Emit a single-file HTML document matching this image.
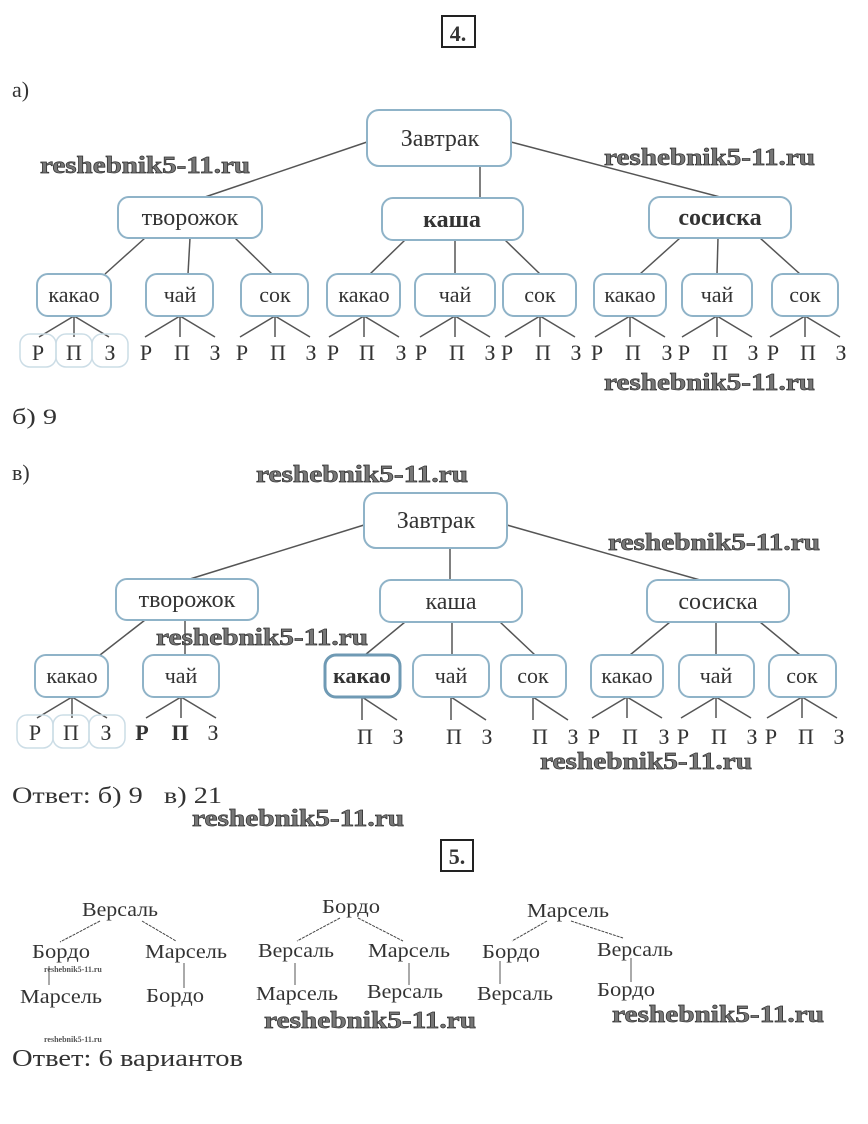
<!DOCTYPE html>
<html><head><meta charset="utf-8"><style>
html,body{margin:0;padding:0;background:#fff;}
svg{display:block}
text{font-family:"Liberation Serif","DejaVu Serif",serif;fill:#333}
.b{fill:#fff;stroke:#8fb3c8;stroke-width:2}
.l{stroke:#555;stroke-width:1.5;fill:none}
.t{font-size:24px;text-anchor:middle}
.s{font-size:22px;text-anchor:middle}
.L{font-size:22px;text-anchor:middle}
.w{font-size:24px;font-weight:bold;fill:#777;stroke:#333;stroke-width:0.7}
.m{font-size:20px;fill:#333}
.d{stroke:#444;stroke-width:1;stroke-dasharray:3,1;fill:none}
</style></head><body>
<svg width="868" height="1124" viewBox="0 0 868 1124" xmlns="http://www.w3.org/2000/svg">
<rect x="442" y="16" width="33" height="31" fill="none" stroke="#222" stroke-width="2"/>
<text x="458" y="41" style="font-size:22px;font-weight:bold;text-anchor:middle">4.</text>
<text x="12" y="97" style="font-size:22px">а)</text>

<g class="l">
<line x1="367" y1="142" x2="205" y2="197"/><line x1="480" y1="166" x2="480" y2="198"/><line x1="511" y1="142" x2="720" y2="197"/>
<line x1="145" y1="238" x2="105" y2="274"/><line x1="190" y1="238" x2="188" y2="274"/><line x1="235" y1="238" x2="272" y2="274"/>
<line x1="405" y1="240" x2="370" y2="274"/><line x1="455" y1="240" x2="455" y2="274"/><line x1="505" y1="240" x2="540" y2="274"/>
<line x1="680" y1="238" x2="640" y2="274"/><line x1="718" y1="238" x2="717" y2="274"/><line x1="760" y1="238" x2="800" y2="274"/>
</g>
<rect class="b" x="367" y="110" width="144" height="56" rx="12"/><text class="t" x="440" y="146">Завтрак</text>
<rect class="b" x="118" y="197" width="144" height="41" rx="11"/><text class="t" x="190" y="225">творожок</text>
<rect class="b" x="382" y="198" width="141" height="42" rx="11"/><text class="t" x="452" y="227" style="font-weight:bold">каша</text>
<rect class="b" x="649" y="197" width="142" height="41" rx="11"/><text class="t" x="720" y="225" style="font-weight:bold">сосиска</text>

<g class="l">
<path d="M74 316L39 337M74 316V337M74 316L109 337"/>
<path d="M180 316L145 337M180 316V337M180 316L215 337"/>
<path d="M275 316L240 337M275 316V337M275 316L310 337"/>
<path d="M364 316L329 337M364 316V337M364 316L399 337"/>
<path d="M455 316L420 337M455 316V337M455 316L490 337"/>
<path d="M540 316L505 337M540 316V337M540 316L575 337"/>
<path d="M630 316L595 337M630 316V337M630 316L665 337"/>
<path d="M717 316L682 337M717 316V337M717 316L752 337"/>
<path d="M805 316L770 337M805 316V337M805 316L840 337"/>
</g>
<g>
<rect class="b" x="37" y="274" width="74" height="42" rx="11"/><text class="s" x="74" y="302">какао</text>
<rect class="b" x="146" y="274" width="67" height="42" rx="11"/><text class="s" x="180" y="302">чай</text>
<rect class="b" x="241" y="274" width="67" height="42" rx="11"/><text class="s" x="275" y="302">сок</text>
<rect class="b" x="327" y="274" width="73" height="42" rx="11"/><text class="s" x="364" y="302">какао</text>
<rect class="b" x="415" y="274" width="80" height="42" rx="11"/><text class="s" x="455" y="302">чай</text>
<rect class="b" x="503" y="274" width="73" height="42" rx="11"/><text class="s" x="540" y="302">сок</text>
<rect class="b" x="594" y="274" width="72" height="42" rx="11"/><text class="s" x="630" y="302">какао</text>
<rect class="b" x="682" y="274" width="70" height="42" rx="11"/><text class="s" x="717" y="302">чай</text>
<rect class="b" x="772" y="274" width="66" height="42" rx="11"/><text class="s" x="805" y="302">сок</text>
</g>
<g>
<rect x="20" y="334" width="36" height="33" rx="10" fill="none" stroke="#ccdde6" stroke-width="1.5"/>
<rect x="56" y="334" width="36" height="33" rx="10" fill="none" stroke="#ccdde6" stroke-width="1.5"/>
<rect x="92" y="334" width="36" height="33" rx="10" fill="none" stroke="#ccdde6" stroke-width="1.5"/>
<text class="L" x="38" y="360">Р</text><text class="L" x="74" y="360">П</text><text class="L" x="110" y="360">З</text>
<text class="L" x="146" y="360">Р</text><text class="L" x="182" y="360">П</text><text class="L" x="215" y="360">З</text>
<text class="L" x="242" y="360">Р</text><text class="L" x="278" y="360">П</text><text class="L" x="311" y="360">З</text>
<text class="L" x="333" y="360">Р</text><text class="L" x="367" y="360">П</text><text class="L" x="401" y="360">З</text>
<text class="L" x="421" y="360">Р</text><text class="L" x="457" y="360">П</text><text class="L" x="490" y="360">З</text>
<text class="L" x="507" y="360">Р</text><text class="L" x="543" y="360">П</text><text class="L" x="576" y="360">З</text>
<text class="L" x="597" y="360">Р</text><text class="L" x="633" y="360">П</text><text class="L" x="667" y="360">З</text>
<text class="L" x="684" y="360">Р</text><text class="L" x="720" y="360">П</text><text class="L" x="753" y="360">З</text>
<text class="L" x="773" y="360">Р</text><text class="L" x="808" y="360">П</text><text class="L" x="841" y="360">З</text>
</g>
<text class="w" x="40" y="173" textLength="210" lengthAdjust="spacingAndGlyphs">reshebnik5-11.ru</text>
<text class="w" x="604" y="165" textLength="211" lengthAdjust="spacingAndGlyphs">reshebnik5-11.ru</text>
<text class="w" x="604" y="390" textLength="211" lengthAdjust="spacingAndGlyphs">reshebnik5-11.ru</text>
<text x="12" y="424" style="font-size:22px" textLength="45" lengthAdjust="spacingAndGlyphs">б) 9</text>
<text x="12" y="480" style="font-size:22px">в)</text>
<text class="w" x="256" y="482" textLength="212" lengthAdjust="spacingAndGlyphs">reshebnik5-11.ru</text>

<g class="l">
<line x1="364" y1="525" x2="190" y2="579"/><line x1="450" y1="548" x2="450" y2="580"/><line x1="507" y1="525" x2="700" y2="580"/>
<line x1="145" y1="620" x2="100" y2="655"/><line x1="185" y1="620" x2="185" y2="655"/>
<line x1="405" y1="622" x2="365" y2="655"/><line x1="452" y1="622" x2="452" y2="655"/><line x1="500" y1="622" x2="535" y2="655"/>
<line x1="670" y1="622" x2="630" y2="655"/><line x1="716" y1="622" x2="716" y2="655"/><line x1="760" y1="622" x2="800" y2="655"/>
</g>
<rect class="b" x="364" y="493" width="143" height="55" rx="12"/><text class="t" x="436" y="528">Завтрак</text>
<rect class="b" x="116" y="579" width="142" height="41" rx="11"/><text class="t" x="187" y="607">творожок</text>
<rect class="b" x="380" y="580" width="142" height="42" rx="11"/><text class="t" x="451" y="609">каша</text>
<rect class="b" x="647" y="580" width="142" height="42" rx="11"/><text class="t" x="718" y="609">сосиска</text>
<g class="l">
<path d="M72 697L37 718M72 697V718M72 697L107 718"/>
<path d="M181 697L146 718M181 697V718M181 697L216 718"/>
<path d="M362 697V720M362 697L397 720"/>
<path d="M451 697V720M451 697L486 720"/>
<path d="M533 697V720M533 697L568 720"/>
<path d="M627 697L592 718M627 697V718M627 697L662 718"/>
<path d="M716 697L681 718M716 697V718M716 697L751 718"/>
<path d="M802 697L767 718M802 697V718M802 697L837 718"/>
</g>
<rect class="b" x="35" y="655" width="73" height="42" rx="11"/><text class="s" x="72" y="683">какао</text>
<rect class="b" x="143" y="655" width="76" height="42" rx="11"/><text class="s" x="181" y="683">чай</text>
<rect class="b" x="325" y="655" width="75" height="42" rx="11" style="stroke:#6f9ab4;stroke-width:3"/><text class="s" x="362" y="683" style="font-weight:bold">какао</text>
<rect class="b" x="413" y="655" width="76" height="42" rx="11"/><text class="s" x="451" y="683">чай</text>
<rect class="b" x="501" y="655" width="65" height="42" rx="11"/><text class="s" x="533" y="683">сок</text>
<rect class="b" x="591" y="655" width="72" height="42" rx="11"/><text class="s" x="627" y="683">какао</text>
<rect class="b" x="679" y="655" width="75" height="42" rx="11"/><text class="s" x="716" y="683">чай</text>
<rect class="b" x="769" y="655" width="67" height="42" rx="11"/><text class="s" x="802" y="683">сок</text>
<g>
<rect x="17" y="715" width="36" height="33" rx="10" fill="none" stroke="#ccdde6" stroke-width="1.5"/>
<rect x="53" y="715" width="36" height="33" rx="10" fill="none" stroke="#ccdde6" stroke-width="1.5"/>
<rect x="89" y="715" width="36" height="33" rx="10" fill="none" stroke="#ccdde6" stroke-width="1.5"/>
<text class="L" x="35" y="740">Р</text><text class="L" x="71" y="740">П</text><text class="L" x="106" y="740">З</text>
<text class="L" x="142" y="740" style="font-weight:bold">Р</text><text class="L" x="180" y="740" style="font-weight:bold">П</text><text class="L" x="213" y="740">З</text>
<text class="L" x="365" y="744">П</text><text class="L" x="398" y="744">З</text>
<text class="L" x="454" y="744">П</text><text class="L" x="487" y="744">З</text>
<text class="L" x="540" y="744">П</text><text class="L" x="573" y="744">З</text>
<text class="L" x="594" y="744">Р</text><text class="L" x="630" y="744">П</text><text class="L" x="664" y="744">З</text>
<text class="L" x="683" y="744">Р</text><text class="L" x="719" y="744">П</text><text class="L" x="752" y="744">З</text>
<text class="L" x="771" y="744">Р</text><text class="L" x="806" y="744">П</text><text class="L" x="839" y="744">З</text>
</g>
<text class="w" x="156" y="645" textLength="212" lengthAdjust="spacingAndGlyphs">reshebnik5-11.ru</text>
<text class="w" x="608" y="550" textLength="212" lengthAdjust="spacingAndGlyphs">reshebnik5-11.ru</text>
<text class="w" x="540" y="769" textLength="212" lengthAdjust="spacingAndGlyphs">reshebnik5-11.ru</text>
<text x="12" y="803" style="font-size:23px" textLength="210" lengthAdjust="spacingAndGlyphs">Ответ: б) 9 &#160; в) 21</text>
<text class="w" x="192" y="826" textLength="212" lengthAdjust="spacingAndGlyphs">reshebnik5-11.ru</text>

<rect x="441" y="840" width="32" height="31" fill="none" stroke="#222" stroke-width="2"/>
<text x="457" y="864" style="font-size:22px;font-weight:bold;text-anchor:middle">5.</text>

<text class="m" x="82" y="916" textLength="76" lengthAdjust="spacingAndGlyphs">Версаль</text>
<text class="m" x="32" y="958" textLength="58" lengthAdjust="spacingAndGlyphs">Бордо</text>
<text class="m" x="145" y="958" textLength="82" lengthAdjust="spacingAndGlyphs">Марсель</text>
<text class="m" x="20" y="1003" textLength="82" lengthAdjust="spacingAndGlyphs">Марсель</text>
<text class="m" x="146" y="1002" textLength="58" lengthAdjust="spacingAndGlyphs">Бордо</text>
<path class="d" d="M100 921L60 942M142 921L176 941"/>
<path class="l" d="M49 966V985M184 963V988" style="stroke-width:1"/>
<text x="44" y="972" style="font-size:8px;font-weight:bold;fill:#555">reshebnik5-11.ru</text>
<text x="44" y="1042" style="font-size:8px;font-weight:bold;fill:#555">reshebnik5-11.ru</text>

<text class="m" x="322" y="913" textLength="58" lengthAdjust="spacingAndGlyphs">Бордо</text>
<text class="m" x="258" y="957" textLength="76" lengthAdjust="spacingAndGlyphs">Версаль</text>
<text class="m" x="368" y="957" textLength="82" lengthAdjust="spacingAndGlyphs">Марсель</text>
<text class="m" x="256" y="1000" textLength="82" lengthAdjust="spacingAndGlyphs">Марсель</text>
<text class="m" x="367" y="998" textLength="76" lengthAdjust="spacingAndGlyphs">Версаль</text>
<path class="d" d="M340 918L297 941M358 918L403 941"/>
<path class="l" d="M295 963V985M409 963V985" style="stroke-width:1"/>

<text class="m" x="527" y="917" textLength="82" lengthAdjust="spacingAndGlyphs">Марсель</text>
<text class="m" x="482" y="958" textLength="58" lengthAdjust="spacingAndGlyphs">Бордо</text>
<text class="m" x="597" y="956" textLength="76" lengthAdjust="spacingAndGlyphs">Версаль</text>
<text class="m" x="477" y="1000" textLength="76" lengthAdjust="spacingAndGlyphs">Версаль</text>
<text class="m" x="597" y="996" textLength="58" lengthAdjust="spacingAndGlyphs">Бордо</text>
<path class="d" d="M547 921L512 941M571 921L623 938"/>
<path class="l" d="M500 961V984M631 958V982" style="stroke-width:1"/>

<text class="w" x="264" y="1028" textLength="212" lengthAdjust="spacingAndGlyphs">reshebnik5-11.ru</text>
<text class="w" x="612" y="1022" textLength="212" lengthAdjust="spacingAndGlyphs">reshebnik5-11.ru</text>
<text x="12" y="1066" style="font-size:24px" textLength="231" lengthAdjust="spacingAndGlyphs">Ответ: 6 вариантов</text>
</svg>
</body></html>
